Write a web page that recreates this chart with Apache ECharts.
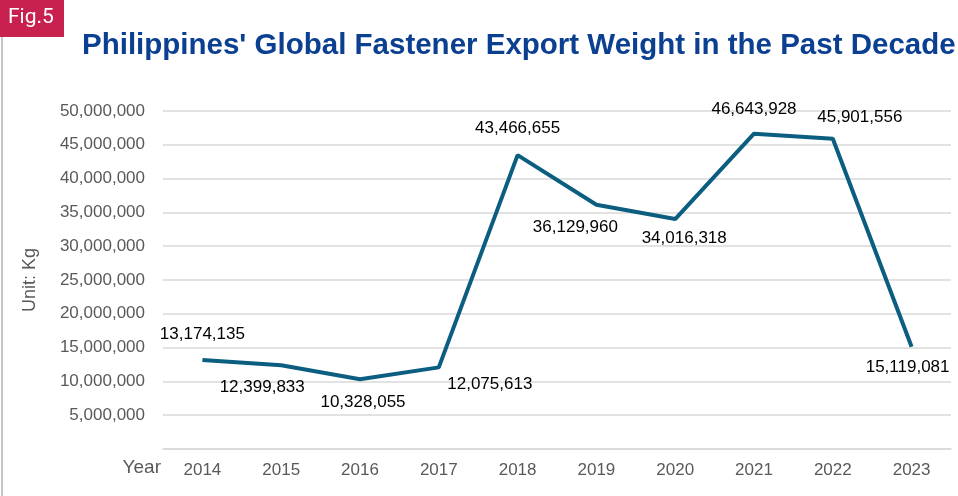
<!DOCTYPE html>
<head>
    <meta charset="utf-8"/>
    <style>
        html,body { height:100%; width:100%; margin:0; padding:0; background:#fff; }
    </style>
</head>
<body>
<div id="line" style="width:958px;height:496px"></div>

<script src="https://cdn.jsdelivr.net/npm/echarts@6/dist/echarts.min.js"></script>
<script type="text/javascript">
   // years and export weight (kg)
   var years = ['2014','2015','2016','2017','2018','2019','2020','2021','2022','2023'];
   var weights = [13174135, 12399833, 10328055, 12075613, 43466655, 36129960, 34016318, 46643928, 45901556, 15119081];
   // label shift for each point, px
   var labelOffsets = [[0,-26],[-19,22],[3,23],[51,17],[0,-27],[-21,23],[9,19],[0,-24],[27,-21],[-4,21]];

   var myChart = echarts.init(document.getElementById('line'));

   var points = weights.map(function (v, i) {
       return { value: v, label: { offset: labelOffsets[i] } };
   });

   var option = {
    animation: false,
    title: {
        text: "Philippines' Global Fastener Export Weight in the Past Decade",
        left: 82,
        top: 31,
        padding: 0,
        textStyle: {
            fontFamily: 'Liberation Sans, Arial',
            fontWeight: 'bold',
            fontSize: 29.5,
            color: '#0a3f91'
        }
    },
    graphic: [
        { type: 'rect', shape: { x: 0, y: 0, width: 64, height: 37 }, style: { fill: '#c8204f' } },
        { type: 'text', left: 8, top: 7, style: { text: 'Fig.5', fill: '#fff', font: '21px Roboto, sans-serif' } },
        { type: 'rect', shape: { x: 1, y: 37, width: 2, height: 459 }, style: { fill: '#c4c4cc' } }
    ],
    grid: {
        left: 163,
        right: 7,
        top: 111,
        bottom: 47
    },
    xAxis: {
        type: 'category',
        data: years,
        name: 'Year',
        nameLocation: 'start',
        nameGap: 2,
        nameTextStyle: { color: '#595959', fontSize: 19, fontFamily: 'Liberation Sans, Arial', verticalAlign: 'top', padding: [9, 0, 0, 0] },
        axisLine: { lineStyle: { color: '#d9d9d9', width: 1.5 } },
        axisTick: { show: false },
        axisLabel: { color: '#595959', fontSize: 17, fontFamily: 'Liberation Sans, Arial', margin: 13 }
    },
    yAxis: {
        type: 'value',
        min: 0,
        max: 50000000,
        interval: 5000000,
        name: 'Unit: Kg',
        nameLocation: 'middle',
        nameGap: 124,
        nameTextStyle: { color: '#595959', fontSize: 18, fontFamily: 'Liberation Sans, Arial' },
        axisLine: { show: false },
        axisTick: { show: false },
        splitLine: { lineStyle: { color: '#d9d9d9', width: 1.5 } },
        axisLabel: {
            color: '#595959',
            fontSize: 17,
            fontFamily: 'Liberation Sans, Arial',
            margin: 18,
            formatter: function (v) { return v === 0 ? '' : v.toLocaleString('en-US'); }
        }
    },
    series: [
        {
            type: 'line',
            data: points,
            symbol: 'circle',
            symbolSize: 1,
            itemStyle: { color: 'rgba(0,0,0,0)', borderWidth: 0 },
            lineStyle: { color: '#0b5e80', width: 4 },
            label: {
                show: true,
                position: 'inside',
                color: '#000',
                fontSize: 17,
                fontFamily: 'Liberation Sans, Arial',
                formatter: function (p) { return p.value.toLocaleString('en-US'); }
            }
        }
    ]
   };

   myChart.setOption(option);
</script>
</body>
